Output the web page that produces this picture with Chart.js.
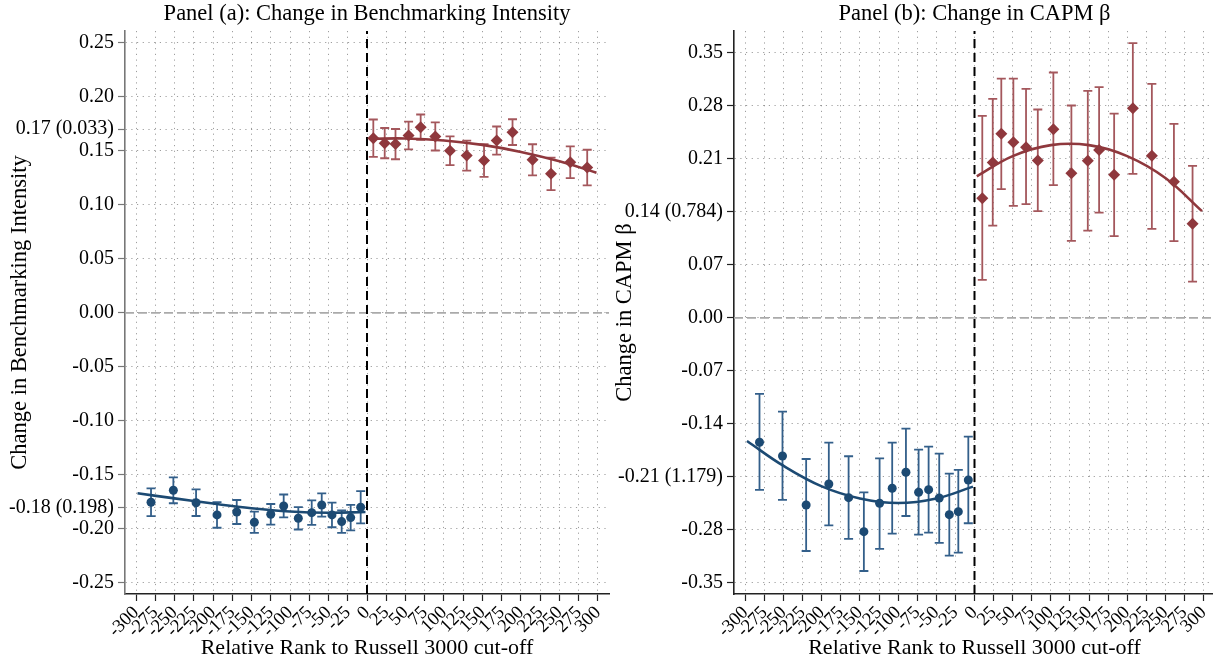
<!DOCTYPE html>
<html>
<head>
<meta charset="utf-8">
<script src="https://cdn.jsdelivr.net/npm/chart.js@4.4.1/dist/chart.umd.min.js"></script>
<style>
  html, body { margin: 0; padding: 0; background: #fff; overflow: hidden; }
  #wrap { position: relative; width: 1213px; height: 662px; overflow: hidden; }
  canvas { position: absolute; top: 0; }
  #chartA { left: 0; }
  #chartB { left: 605px; }
</style>
</head>
<body>
<div id="wrap">
  <canvas id="chartA" width="629" height="662"></canvas>
  <canvas id="chartB" width="630" height="662"></canvas>
</div>
<script>
// x ticks (relative rank), same for both panels
const xTicks = [-300, -275, -250, -225, -200, -175, -150, -125, -100, -75, -50, -25,
  0, 25, 50, 75, 100, 125, 150, 175, 200, 225, 250, 275, 300];

// ---- Panel (a): benchmarking intensity ----
const aTicks = [-0.25, -0.2, -0.18, -0.15, -0.1, -0.05, 0, 0.05, 0.1, 0.15, 0.17, 0.2, 0.25];
const aTickLabels = ['-0.25', '-0.20', '-0.18 (0.198)', '-0.15', '-0.10', '-0.05', '0.00',
  '0.05', '0.10', '0.15', '0.17 (0.033)', '0.20', '0.25'];

const aBlueX = [-280.5, -251.5, -222, -194.8, -169.2, -146.3, -125, -108.2, -89.2, -71.8, -58.8, -45.5, -32.9, -21.2, -8.2];
const aBlueY = [-0.1753, -0.1642, -0.1757, -0.1870, -0.1843, -0.1938, -0.1864, -0.1787, -0.1901, -0.1849, -0.1778, -0.1870, -0.1932, -0.1895, -0.1799];
const aBlueLo = [-0.1881, -0.1762, -0.1880, -0.1989, -0.1954, -0.2037, -0.1959, -0.1893, -0.2005, -0.1963, -0.1886, -0.1984, -0.2036, -0.2013, -0.1949];
const aBlueHi = [-0.1625, -0.1522, -0.1634, -0.1751, -0.1732, -0.1839, -0.1769, -0.1681, -0.1797, -0.1735, -0.1670, -0.1756, -0.1828, -0.1777, -0.1649];

const aRedX = [8.2, 23, 37, 54, 69.7, 88.7, 107.8, 129.5, 152, 168.4, 189, 215, 239, 264, 286];
const aRedY = [0.1617, 0.1571, 0.1562, 0.1642, 0.1719, 0.1633, 0.1500, 0.1456, 0.1410, 0.1595, 0.1673, 0.1417, 0.1287, 0.1395, 0.1345];
const aRedLo = [0.1444, 0.1431, 0.1422, 0.1514, 0.1602, 0.1503, 0.1367, 0.1317, 0.1259, 0.1465, 0.1554, 0.1273, 0.1137, 0.1248, 0.1180];
const aRedHi = [0.1790, 0.1711, 0.1702, 0.1770, 0.1836, 0.1763, 0.1633, 0.1595, 0.1561, 0.1725, 0.1792, 0.1561, 0.1437, 0.1542, 0.1510];

// fitted curves
const aFitLeftX = [-298, -250, -200, -150, -100, -50, -2];
const aFitLeftY = [-0.1670, -0.1717, -0.1765, -0.1808, -0.1838, -0.1850, -0.1843];
const aFitRightX = [3, 50, 100, 150, 200, 250, 298];
const aFitRightY = [0.1611, 0.1614, 0.1596, 0.1555, 0.1490, 0.1403, 0.1298];

// ---- Panel (b): CAPM beta ----
const bTicks = [-0.35, -0.28, -0.21, -0.14, -0.07, 0, 0.07, 0.14, 0.21, 0.28, 0.35];
const bTickLabels = ['-0.35', '-0.28', '-0.21 (1.179)', '-0.14', '-0.07', '0.00',
  '0.07', '0.14 (0.784)', '0.21', '0.28', '0.35'];

const bBlueX = [-281.6, -251.5, -220.5, -190.8, -164.9, -144.9, -124.3, -107.8, -89.8, -73.2, -60.1, -46.2, -33.0, -21.2, -8.1];
const bBlueY = [-0.1642, -0.1823, -0.2470, -0.2193, -0.2374, -0.2823, -0.2448, -0.2250, -0.2038, -0.2303, -0.2268, -0.2378, -0.2598, -0.2559, -0.2140];
const bBlueLo = [-0.2272, -0.2404, -0.3078, -0.2739, -0.2919, -0.3342, -0.3051, -0.2849, -0.2616, -0.2862, -0.2836, -0.2972, -0.3140, -0.3100, -0.2712];
const bBlueHi = [-0.1004, -0.1237, -0.1863, -0.1647, -0.1827, -0.2303, -0.1854, -0.1647, -0.1462, -0.1739, -0.1700, -0.1792, -0.2057, -0.2008, -0.1568];

const bRedX = [10.2, 23.9, 35.1, 50.9, 67.5, 82.9, 103.3, 126.9, 148.4, 163.2, 182.9, 207.4, 232.3, 261.2, 285.6];
const bRedY = [0.1581, 0.2052, 0.2431, 0.2321, 0.2255, 0.2078, 0.2493, 0.1912, 0.2074, 0.2219, 0.1889, 0.2770, 0.2140, 0.1797, 0.1242];
const bRedLo = [0.0502, 0.1220, 0.1700, 0.1480, 0.1502, 0.1409, 0.1753, 0.1017, 0.1154, 0.1391, 0.1079, 0.1902, 0.1176, 0.1013, 0.0480];
const bRedHi = [0.2668, 0.2893, 0.3161, 0.3161, 0.3025, 0.2752, 0.3241, 0.2805, 0.2999, 0.3048, 0.2699, 0.3629, 0.3091, 0.2563, 0.2008];

const bFitLeftX = [-298, -250, -200, -150, -100, -50, -2];
const bFitLeftY = [-0.1625, -0.1955, -0.2225, -0.2385, -0.2445, -0.2385, -0.2228];
const bFitRightX = [3, 50, 100, 150, 200, 250, 298];
const bFitRightY = [0.187, 0.2137, 0.2282, 0.2282, 0.2137, 0.1848, 0.141];

const FONT = "'Liberation Serif', 'DejaVu Serif', serif";
const RED = '#8f383d';
const RED_BAR = '#a4575c';
const BLUE = '#1c4a73';
const BLUE_BAR = '#335f8a';

const pts = (xs, ys) => xs.map((x, i) => ({ x, y: ys[i] }));

// whiskers with caps, drawn under the markers
const errorBars = {
  id: 'errorBars',
  beforeDatasetsDraw(chart) {
    const ctx = chart.ctx;
    const xs = chart.scales.x;
    const ys = chart.scales.y;
    chart.data.datasets.forEach((ds) => {
      if (!ds.errLo) return;
      ctx.save();
      ctx.strokeStyle = ds.errColor;
      ctx.lineWidth = 1.8;
      ds.data.forEach((p, i) => {
        const px = xs.getPixelForValue(p.x);
        const top = ys.getPixelForValue(ds.errHi[i]);
        const bot = ys.getPixelForValue(ds.errLo[i]);
        ctx.beginPath();
        ctx.moveTo(px, top);
        ctx.lineTo(px, bot);
        ctx.moveTo(px - 4.5, top);
        ctx.lineTo(px + 4.5, top);
        ctx.moveTo(px - 4.5, bot);
        ctx.lineTo(px + 4.5, bot);
        ctx.stroke();
      });
      ctx.restore();
    });
  }
};

function makePanel(id, p) {
  const datasets = [
    {
      data: pts(p.redX, p.redY), errLo: p.redLo, errHi: p.redHi, errColor: RED_BAR,
      showLine: false, pointStyle: 'rectRot', pointRadius: 6,
      backgroundColor: RED, borderColor: RED, borderWidth: 0
    },
    {
      data: pts(p.blueX, p.blueY), errLo: p.blueLo, errHi: p.blueHi, errColor: BLUE_BAR,
      showLine: false, pointStyle: 'circle', pointRadius: 4.5,
      backgroundColor: BLUE, borderColor: BLUE, borderWidth: 0
    },
    {
      data: pts(p.fitRX, p.fitRY), showLine: true, tension: 0.4, pointRadius: 0,
      borderColor: RED, borderWidth: 2.6
    },
    {
      data: pts(p.fitLX, p.fitLY), showLine: true, tension: 0.4, pointRadius: 0,
      borderColor: BLUE, borderWidth: 2.6
    },
    {
      // cut-off line at rank 0
      data: [{ x: 0, y: p.yMin }, { x: 0, y: p.yMax }], showLine: true, pointRadius: 0,
      borderColor: '#000', borderWidth: 2, borderDash: [9, 5]
    },
    {
      // zero line
      data: [{ x: p.xMin, y: 0 }, { x: p.xMax, y: 0 }], showLine: true, pointRadius: 0,
      borderColor: '#aaaaaa', borderWidth: 1.6, borderDash: [9, 4]
    }
  ];

  return new Chart(document.getElementById(id), {
    type: 'scatter',
    data: { datasets },
    plugins: [errorBars],
    options: {
      responsive: false,
      animation: false,
      devicePixelRatio: 1,
      layout: { padding: { right: 20, left: 0, top: 0, bottom: 0 } },
      plugins: {
        legend: { display: false },
        tooltip: { enabled: false },
        title: {
          display: true,
          fullSize: false, // centre over the plot area
          text: p.title,
          color: '#000',
          font: { family: FONT, size: 22.5, weight: 'normal' },
          padding: { top: 1, bottom: 3 }
        }
      },
      scales: {
        x: {
          type: 'linear',
          min: p.xMin,
          max: p.xMax,
          afterBuildTicks: (s) => { s.ticks = xTicks.map((v) => ({ value: v })); },
          afterFit: (s) => { s.height = 68; },
          ticks: {
            autoSkip: false,
            minRotation: 45,
            maxRotation: 45,
            padding: 1,
            color: '#000',
            font: { family: FONT, size: 18.5 },
            callback: (v) => String(v)
          },
          grid: {
            color: 'rgba(0,0,0,0.38)',
            lineWidth: 1,
            tickLength: 7,
            tickColor: '#222',
            tickWidth: 1.2
          },
          border: { display: true, color: '#222', width: 1.6, dash: [1.2, 4.5] },
          title: {
            display: true,
            text: 'Relative Rank to Russell 3000 cut-off',
            color: '#000',
            font: { family: FONT, size: 22 },
            padding: { top: 0, bottom: 1 }
          }
        },
        y: {
          type: 'linear',
          min: p.yMin,
          max: p.yMax,
          afterBuildTicks: (s) => { s.ticks = p.ticks.map((v) => ({ value: v })); },
          afterFit: (s) => { s.width = p.yAxisW; },
          ticks: {
            autoSkip: false,
            padding: 4,
            color: '#000',
            font: { family: FONT, size: 20 },
            callback: (v, i) => p.tickLabels[i]
          },
          grid: {
            color: 'rgba(0,0,0,0.38)',
            lineWidth: 1,
            tickLength: 7,
            tickColor: p.yAxisColor,
            tickWidth: 1.2
          },
          border: { display: true, color: p.yAxisColor, width: 1.6, dash: [1.2, 4.5] },
          title: {
            display: true,
            text: p.yTitle,
            color: '#000',
            font: { family: FONT, size: 22.5 },
            padding: { top: 7, bottom: 0 }
          }
        }
      }
    }
  });
}

makePanel('chartA', {
  title: 'Panel (a): Change in Benchmarking Intensity',
  yTitle: 'Change in Benchmarking Intensity',
  xMin: -314.3, xMax: 314.3, yMin: -0.2602, yMax: 0.2609, yAxisW: 125,
  yAxisColor: '#777',
  ticks: aTicks, tickLabels: aTickLabels,
  redX: aRedX, redY: aRedY, redLo: aRedLo, redHi: aRedHi,
  blueX: aBlueX, blueY: aBlueY, blueLo: aBlueLo, blueHi: aBlueHi,
  fitLX: aFitLeftX, fitLY: aFitLeftY, fitRX: aFitRightX, fitRY: aFitRightY
});

makePanel('chartB', {
  title: 'Panel (b): Change in CAPM β',
  yTitle: 'Change in CAPM β',
  xMin: -315, xMax: 315, yMin: -0.3646, yMax: 0.3789, yAxisW: 129,
  yAxisColor: '#222',
  ticks: bTicks, tickLabels: bTickLabels,
  redX: bRedX, redY: bRedY, redLo: bRedLo, redHi: bRedHi,
  blueX: bBlueX, blueY: bBlueY, blueLo: bBlueLo, blueHi: bBlueHi,
  fitLX: bFitLeftX, fitLY: bFitLeftY, fitRX: bFitRightX, fitRY: bFitRightY
});
</script>
</body>
</html>
